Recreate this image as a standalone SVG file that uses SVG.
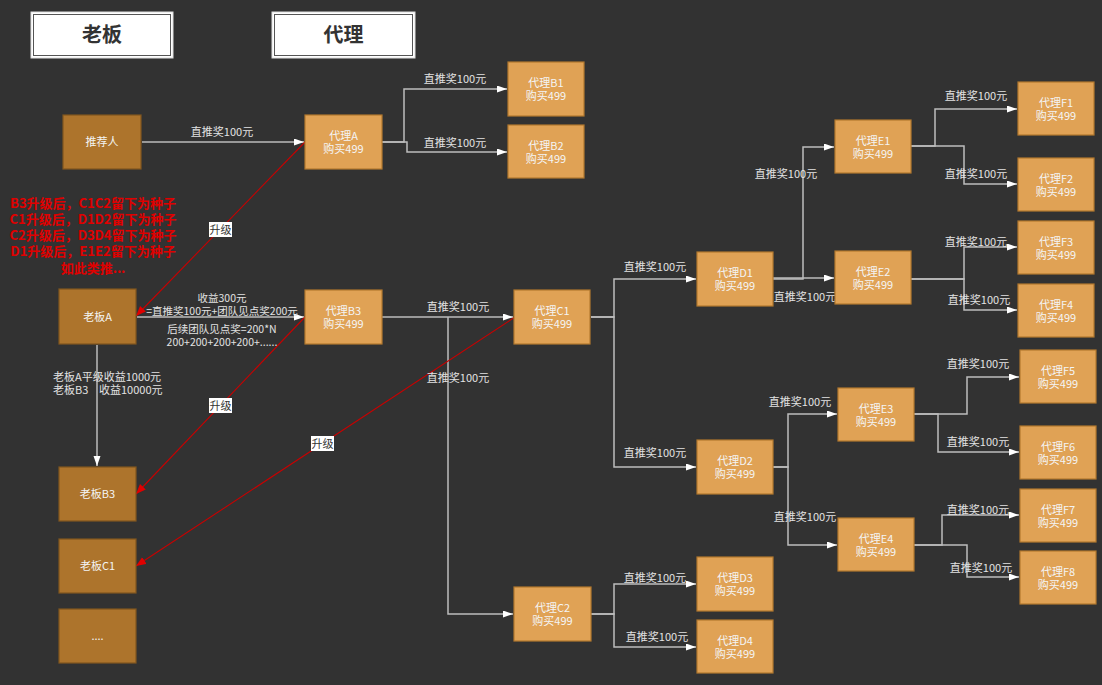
<svg xmlns="http://www.w3.org/2000/svg" width="1102" height="685" viewBox="0 0 1102 685">
<style>
text{font-family:"Noto Sans CJK SC","Liberation Sans",sans-serif;}
.bg{fill:#323232;}
.boss rect{fill:#AD742C;stroke:#80561F;stroke-width:1.2;}
.agent rect{fill:#E0A255;stroke:#B2782E;stroke-width:1.2;}
.nt{fill:#F4F4F4;font-size:11px;text-anchor:middle;}
.lbl{fill:#E2E2E2;font-size:11px;text-anchor:middle;}
.sm{font-size:10.5px;}
.lbll{fill:#E2E2E2;font-size:11px;}
.conn{fill:none;stroke:#BDBDBD;stroke-width:1.5;marker-end:url(#wa);}
.up{fill:none;stroke:#C80000;stroke-width:1.1;marker-end:url(#ra);}
.upl rect{fill:#FFFFFF;}
.upl text{fill:#333;font-size:11px;text-anchor:middle;}
.red{fill:#E00000;font-size:13px;font-weight:bold;text-anchor:middle;}
.hdr .o{fill:#FFFFFF;stroke:#DDDDDD;stroke-width:1;}
.hdr .i{fill:none;stroke:#555;stroke-width:1;}
.hdr text{fill:#333;font-size:20px;font-weight:bold;text-anchor:middle;}
</style>
<defs>
<marker id="wa" markerWidth="11" markerHeight="8" refX="10" refY="3.5" orient="auto" markerUnits="userSpaceOnUse"><path d="M0,0 L10,3.5 L0,7 z" fill="#FFFFFF"/></marker>
<marker id="ra" markerWidth="11" markerHeight="9" refX="10" refY="4" orient="auto" markerUnits="userSpaceOnUse"><path d="M0,0 L10,4 L0,8 z" fill="#E00000"/></marker>
</defs>
<rect class="bg" x="0" y="0" width="1102" height="685"/>

<g id="hdr-boss" class="hdr"><rect class="o" x="31" y="12" width="142" height="46"/><rect class="i" x="33.5" y="14.5" width="137" height="41"/><text x="102" y="42">老板</text></g>
<g id="hdr-agent" class="hdr"><rect class="o" x="272" y="12" width="143" height="46"/><rect class="i" x="274.5" y="14.5" width="138" height="41"/><text x="343.5" y="42">代理</text></g>

<g id="connectors">
<path class="conn" d="M142,142 H304"/>
<path class="conn" d="M382,142 H404 V89 H507"/>
<path class="conn" d="M382,142 H407 V152 H507"/>
<path class="conn" d="M137,317 H304"/>
<path class="conn" d="M97,345 V466"/>
<path class="conn" d="M382,317 H513"/>
<path class="conn" d="M448,317 V614 H513"/>
<path class="conn" d="M591,317 H614 V279 H696"/>
<path class="conn" d="M591,317 H614 V467 H696"/>
<path class="conn" d="M773,279 H803 V147 H834"/>
<path class="conn" d="M773,278 H834"/>
<path class="conn" d="M911,146 H935 V109 H1017"/>
<path class="conn" d="M911,146 H964 V184 H1017"/>
<path class="conn" d="M911,279 H964 V247 H1017"/>
<path class="conn" d="M911,279 H964 V310 H1017"/>
<path class="conn" d="M773,467 H788 V414 H837"/>
<path class="conn" d="M773,467 H788 V545 H837"/>
<path class="conn" d="M914,414 H967 V377 H1019"/>
<path class="conn" d="M914,414 H938 V452 H1019"/>
<path class="conn" d="M914,545 H942 V515 H1019"/>
<path class="conn" d="M914,545 H967 V577 H1019"/>
<path class="conn" d="M591,614 H614 V584 H696"/>
<path class="conn" d="M591,614 H614 V647 H696"/>

<path class="up" d="M305,142 L136,316"/>
<path class="up" d="M305,317 L136,494"/>
<path class="up" d="M515,317 L136,566"/>

<text class="lbl" x="222" y="136">直推奖100元</text>
<text class="lbl" x="455" y="83">直推奖100元</text>
<text class="lbl" x="455" y="147">直推奖100元</text>
<text class="lbl sm" x="222" y="302">收益300元</text>
<text class="lbl sm" x="222" y="315">=直推奖100元+团队见点奖200元</text>
<text class="lbl sm" x="222" y="333">后续团队见点奖=200*N</text>
<text class="lbl sm" x="222" y="346">200+200+200+200+......</text>
<text class="lbll" x="53" y="381">老板A平级收益1000元</text>
<text class="lbll" x="53" y="394">老板B3</text>
<text class="lbll" x="99" y="394">收益10000元</text>
<text class="lbl" x="458" y="311">直推奖100元</text>
<text class="lbl" x="458" y="382">直推奖100元</text>
<text class="lbl" x="655" y="271">直推奖100元</text>
<text class="lbl" x="655" y="457">直推奖100元</text>
<text class="lbl" x="786" y="178">直推奖100元</text>
<text class="lbl" x="805" y="301">直推奖100元</text>
<text class="lbl" x="976" y="100">直推奖100元</text>
<text class="lbl" x="976" y="178">直推奖100元</text>
<text class="lbl" x="976" y="246">直推奖100元</text>
<text class="lbl" x="979" y="304">直推奖100元</text>
<text class="lbl" x="800" y="406">直推奖100元</text>
<text class="lbl" x="805" y="521">直推奖100元</text>
<text class="lbl" x="978" y="368">直推奖100元</text>
<text class="lbl" x="978" y="446">直推奖100元</text>
<text class="lbl" x="978" y="514">直推奖100元</text>
<text class="lbl" x="981" y="572">直推奖100元</text>
<text class="lbl" x="655" y="582">直推奖100元</text>
<text class="lbl" x="657" y="641">直推奖100元</text>

<g class="upl"><rect x="209" y="222" width="23" height="15"/><text x="220.5" y="234">升级</text></g>
<g class="upl"><rect x="209" y="398" width="23" height="15"/><text x="220.5" y="410">升级</text></g>
<g class="upl"><rect x="311" y="436" width="23" height="15"/><text x="322.5" y="448">升级</text></g>
</g>

<g id="note">
<text class="red" x="93" y="208">B3升级后，C1C2留下为种子</text>
<text class="red" x="93" y="224">C1升级后，D1D2留下为种子</text>
<text class="red" x="93" y="240">C2升级后，D3D4留下为种子</text>
<text class="red" x="93" y="256">D1升级后，E1E2留下为种子</text>
<text class="red" x="93" y="273">如此类推...</text>
</g>

<g id="n-tjr" class="boss"><rect x="63" y="115" width="78" height="54"/><text class="nt" x="102" y="146">推荐人</text></g>
<g id="n-bossA" class="boss"><rect x="59" y="289" width="77" height="55"/><text class="nt" x="97.5" y="321">老板A</text></g>
<g id="n-bossB3" class="boss"><rect x="59" y="467" width="77" height="54"/><text class="nt" x="97.5" y="498">老板B3</text></g>
<g id="n-bossC1" class="boss"><rect x="59" y="539" width="77" height="54"/><text class="nt" x="97.5" y="570">老板C1</text></g>
<g id="n-bossMore" class="boss"><rect x="59" y="609" width="77" height="54"/><text class="nt" x="97.5" y="640">....</text></g>

<g id="n-A" class="agent"><rect x="305" y="115" width="77" height="54"/><text class="nt" x="343.5" y="140">代理A</text><text class="nt" x="343.5" y="153">购买499</text></g>
<g id="n-B1" class="agent"><rect x="508" y="62" width="76" height="54"/><text class="nt" x="546" y="87">代理B1</text><text class="nt" x="546" y="100">购买499</text></g>
<g id="n-B2" class="agent"><rect x="508" y="125" width="76" height="53"/><text class="nt" x="546" y="150">代理B2</text><text class="nt" x="546" y="163">购买499</text></g>
<g id="n-B3" class="agent"><rect x="305" y="290" width="77" height="54"/><text class="nt" x="343.5" y="315">代理B3</text><text class="nt" x="343.5" y="328">购买499</text></g>
<g id="n-C1" class="agent"><rect x="514" y="290" width="76" height="54"/><text class="nt" x="552" y="315">代理C1</text><text class="nt" x="552" y="328">购买499</text></g>
<g id="n-C2" class="agent"><rect x="514" y="587" width="77" height="54"/><text class="nt" x="552.5" y="612">代理C2</text><text class="nt" x="552.5" y="625">购买499</text></g>
<g id="n-D1" class="agent"><rect x="697" y="252" width="76" height="54"/><text class="nt" x="735" y="277">代理D1</text><text class="nt" x="735" y="290">购买499</text></g>
<g id="n-D2" class="agent"><rect x="697" y="440" width="76" height="54"/><text class="nt" x="735" y="465">代理D2</text><text class="nt" x="735" y="478">购买499</text></g>
<g id="n-D3" class="agent"><rect x="697" y="557" width="76" height="54"/><text class="nt" x="735" y="582">代理D3</text><text class="nt" x="735" y="595">购买499</text></g>
<g id="n-D4" class="agent"><rect x="697" y="620" width="76" height="53"/><text class="nt" x="735" y="645">代理D4</text><text class="nt" x="735" y="658">购买499</text></g>
<g id="n-E1" class="agent"><rect x="835" y="120" width="76" height="53"/><text class="nt" x="873" y="145">代理E1</text><text class="nt" x="873" y="158">购买499</text></g>
<g id="n-E2" class="agent"><rect x="835" y="251" width="76" height="53"/><text class="nt" x="873" y="276">代理E2</text><text class="nt" x="873" y="289">购买499</text></g>
<g id="n-E3" class="agent"><rect x="838" y="388" width="76" height="53"/><text class="nt" x="876" y="413">代理E3</text><text class="nt" x="876" y="426">购买499</text></g>
<g id="n-E4" class="agent"><rect x="838" y="518" width="76" height="53"/><text class="nt" x="876" y="543">代理E4</text><text class="nt" x="876" y="556">购买499</text></g>
<g id="n-F1" class="agent"><rect x="1018" y="82" width="76" height="53"/><text class="nt" x="1056" y="107">代理F1</text><text class="nt" x="1056" y="120">购买499</text></g>
<g id="n-F2" class="agent"><rect x="1018" y="158" width="76" height="53"/><text class="nt" x="1056" y="183">代理F2</text><text class="nt" x="1056" y="196">购买499</text></g>
<g id="n-F3" class="agent"><rect x="1018" y="221" width="76" height="53"/><text class="nt" x="1056" y="246">代理F3</text><text class="nt" x="1056" y="259">购买499</text></g>
<g id="n-F4" class="agent"><rect x="1018" y="284" width="76" height="53"/><text class="nt" x="1056" y="309">代理F4</text><text class="nt" x="1056" y="322">购买499</text></g>
<g id="n-F5" class="agent"><rect x="1020" y="350" width="76" height="53"/><text class="nt" x="1058" y="375">代理F5</text><text class="nt" x="1058" y="388">购买499</text></g>
<g id="n-F6" class="agent"><rect x="1020" y="426" width="76" height="53"/><text class="nt" x="1058" y="451">代理F6</text><text class="nt" x="1058" y="464">购买499</text></g>
<g id="n-F7" class="agent"><rect x="1020" y="489" width="76" height="53"/><text class="nt" x="1058" y="514">代理F7</text><text class="nt" x="1058" y="527">购买499</text></g>
<g id="n-F8" class="agent"><rect x="1020" y="551" width="76" height="53"/><text class="nt" x="1058" y="576">代理F8</text><text class="nt" x="1058" y="589">购买499</text></g>
</svg>
